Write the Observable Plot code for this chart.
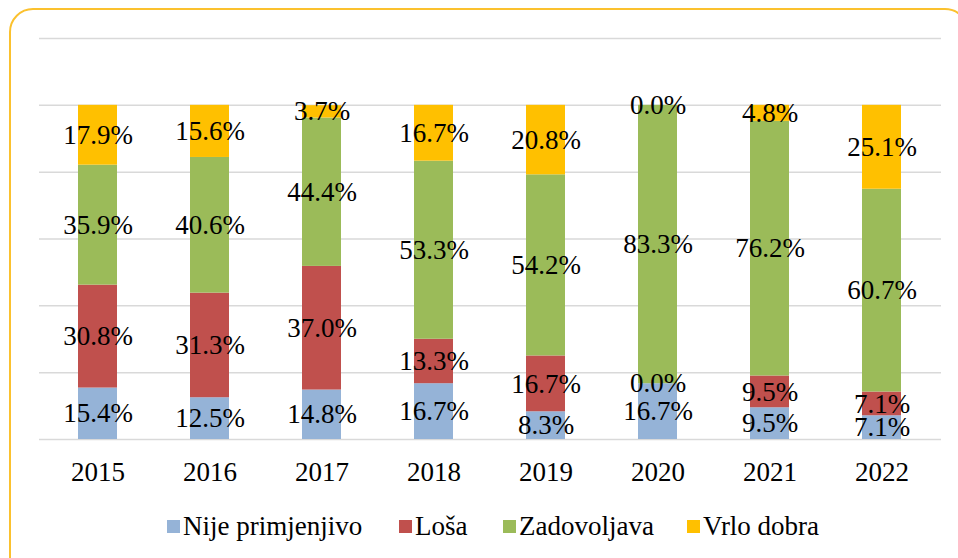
<!DOCTYPE html>
<html>
<head>
<meta charset="utf-8">
<script src="https://cdn.jsdelivr.net/npm/d3@7"></script>
<script src="https://cdn.jsdelivr.net/npm/@observablehq/plot@0.6"></script>
<style>
  body { margin: 0; background: #fff; }
  #wrap { position: relative; width: 958px; height: 558px; overflow: hidden; font-family: 'Liberation Serif'; }
  #border { position: absolute; left: 9px; top: 8px; width: 960px; height: 580px; border: 2px solid #FBC12E; border-radius: 24px; box-sizing: border-box; }
  #chart { position: absolute; left: 0; top: 0; }
  .item { position: absolute; top: 511px; display: flex; align-items: center; font-size: 27px; font-family: 'Liberation Serif'; color: #000; white-space: nowrap; }
  .sw { width: 13px; height: 13px; margin-right: 3px; }
</style>
</head>
<body>
<div id="wrap">
  <div id="border"></div>
  <div id="chart"></div>
  <div id="legend"></div>
</div>
<script>
const years = ["2015", "2016", "2017", "2018", "2019", "2020", "2021", "2022"];
const categories = ["Nije primjenjivo", "Loša", "Zadovoljava", "Vrlo dobra"];
const nijePrimjenjivo = [15.4, 12.5, 14.8, 16.7, 8.3, 16.7, 9.5, 7.1];
const losa = [30.8, 31.3, 37.0, 13.3, 16.7, 0.0, 9.5, 7.1];
const zadovoljava = [35.9, 40.6, 44.4, 53.3, 54.2, 83.3, 76.2, 60.7];
const vrloDobra = [17.9, 15.6, 3.7, 16.7, 20.8, 0.0, 4.8, 25.1];
const gridTicks = [0, 20, 40, 60, 80, 100, 120];
const colors = ["#95B3D7", "#C0504D", "#9BBB59", "#FFC000"];
const legendLeft = [167, 399, 503, 687];

const series = [nijePrimjenjivo, losa, zadovoljava, vrloDobra];
const data = [];
categories.forEach((c, ci) => {
  years.forEach((y, yi) => data.push({ year: y, cat: c, value: series[ci][yi] }));
});

const FONT = "Liberation Serif";

const chart = Plot.plot({
  width: 958,
  height: 499,
  marginTop: 38,
  marginBottom: 60,
  marginLeft: 39,
  marginRight: 17,
  style: { fontFamily: FONT, fontSize: "27px", color: "#000", background: "transparent" },
  x: { domain: years, paddingInner: 0.65, paddingOuter: 0.325, label: null },
  y: { domain: [0, 120], axis: null },
  color: { domain: categories, range: colors },
  marks: [
    Plot.gridY(gridTicks, { stroke: "#d9d9d9", strokeOpacity: 1, strokeWidth: 1.5 }),
    Plot.barY(data, Plot.stackY({ x: "year", y: "value", z: "cat", fill: "cat", order: categories, inset: 0 })),
    Plot.text(data, Plot.stackY({ x: "year", y: "value", z: "cat", order: categories,
      text: d => d.value.toFixed(1) + "%", fontSize: 27, fontFamily: FONT, fill: "#000" })),
    Plot.axisX({ tickSize: 0, tickPadding: 22, fontSize: 27, fontFamily: FONT, fill: "#000", label: null })
  ]
});
document.getElementById("chart").appendChild(chart);

const legend = document.getElementById("legend");
categories.forEach((c, i) => {
  const it = document.createElement("div");
  it.className = "item";
  it.style.left = legendLeft[i] + "px";
  const sw = document.createElement("div");
  sw.className = "sw";
  sw.style.background = colors[i];
  const t = document.createElement("span");
  t.textContent = c;
  it.appendChild(sw);
  it.appendChild(t);
  legend.appendChild(it);
});
</script>
</body>
</html>
